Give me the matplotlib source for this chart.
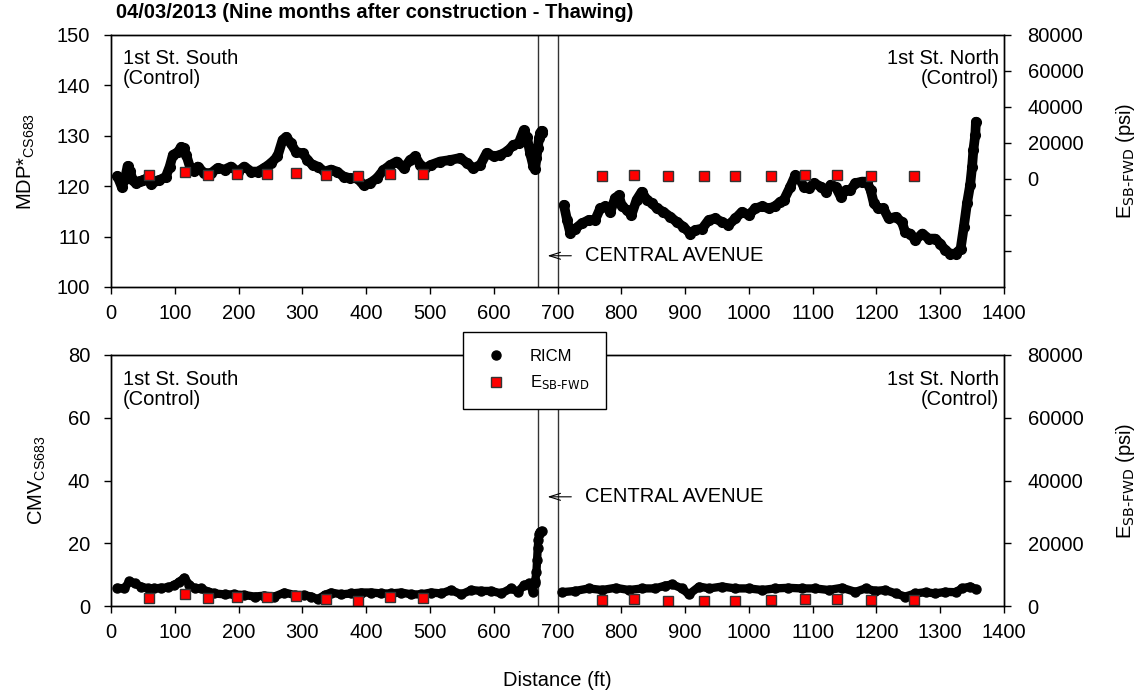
import matplotlib
matplotlib.use('Agg')
import matplotlib.pyplot as plt
from matplotlib.lines import Line2D

plt.rcParams['font.family'] = ['Liberation Sans', 'DejaVu Sans']
plt.rcParams['mathtext.default'] = 'regular'

# RICM MDP* along 1st St. South / North (ft, value)
mdp_s_x = [10, 17, 22, 26, 30, 34, 39, 45, 50, 55, 60, 63, 68, 76, 86, 92, 97, 105, 110, 114,
           118, 125, 130, 136, 146, 157, 167, 178, 188, 199, 209, 220, 230, 240, 251, 261, 269,
           275, 282, 290, 301, 308, 316, 324, 335, 345, 354, 365, 375, 386, 396, 406, 417, 427,
           438, 448, 459, 469, 477, 485, 493, 501, 516, 532, 547, 558, 568, 579, 589, 600, 610,
           621, 631, 639, 647, 652, 657, 662, 665, 667, 669, 671, 673, 675, 676]
mdp_s_y = [122.0, 119.8, 121.5, 124.0, 123.0, 121.2, 120.6, 121.0, 121.2, 121.5, 121.8, 120.4,
           121.0, 121.2, 121.9, 123.9, 126.2, 126.8, 127.8, 127.5, 126.2, 123.3, 123.0, 123.9,
           122.6, 122.6, 123.6, 123.3, 123.9, 122.9, 123.9, 122.9, 122.9, 123.6, 124.6, 125.9,
           129.2, 129.8, 128.5, 126.8, 126.5, 125.2, 124.2, 123.9, 122.9, 123.3, 122.9, 121.9,
           121.6, 121.6, 120.2, 120.6, 121.6, 123.2, 124.2, 124.9, 123.6, 125.2, 125.9, 124.2,
           123.6, 124.2, 124.9, 125.2, 125.6, 124.6, 123.6, 124.2, 126.6, 125.9, 126.2, 126.9,
           128.2, 128.5, 131.1, 129.8, 126.6, 124.0, 123.5, 125.5, 127.5, 129.5, 130.5, 131.0,
           130.5]
mdp_n_x = [710, 715, 720, 728, 738, 749, 759, 767, 775, 783, 790, 796, 801, 809, 816, 824, 832,
           840, 848, 856, 866, 877, 887, 897, 908, 916, 927, 937, 947, 958, 968, 979, 989, 1000,
           1010, 1021, 1031, 1041, 1049, 1055, 1065, 1073, 1078, 1086, 1094, 1102, 1113, 1121,
           1128, 1136, 1144, 1152, 1159, 1167, 1177, 1185, 1191, 1196, 1203, 1211, 1219, 1230,
           1240, 1245, 1253, 1261, 1272, 1282, 1292, 1300, 1308, 1316, 1324, 1332, 1337, 1342,
           1347, 1350, 1352, 1355, 1356]
mdp_n_y = [116.3, 113.3, 110.7, 111.6, 112.6, 113.3, 113.3, 115.6, 116.0, 114.9, 117.6, 118.2,
           116.0, 115.3, 114.3, 117.3, 118.9, 117.3, 116.6, 115.6, 114.9, 113.9, 112.9, 112.0,
           110.6, 111.3, 111.6, 113.3, 113.6, 112.9, 112.3, 113.6, 114.9, 114.3, 115.6, 116.0,
           115.6, 116.0, 116.9, 117.3, 119.9, 122.2, 121.9, 119.9, 119.6, 120.6, 119.9, 118.9,
           120.3, 119.9, 117.9, 119.2, 119.2, 120.6, 120.9, 120.9, 119.2, 116.6, 115.6, 115.6,
           113.6, 113.9, 112.9, 110.9, 110.6, 109.3, 110.6, 109.6, 109.6, 108.6, 107.3, 106.6,
           106.6, 107.6, 111.9, 116.6, 120.3, 123.9, 127.2, 130.2, 132.8]

# RICM CMV
cmv_s_x = [10, 21, 29, 37, 47, 58, 68, 78, 89, 99, 107, 115, 123, 131, 141, 152, 162, 178, 193,
           209, 225, 240, 256, 272, 288, 303, 314, 324, 335, 345, 361, 376, 392, 408, 424, 439,
           455, 471, 486, 502, 518, 533, 549, 565, 580, 596, 612, 627, 638, 648, 656, 661, 664,
           665, 667, 668, 669, 670, 671, 673, 675]
cmv_s_y = [5.8, 5.6, 7.9, 7.2, 6.2, 5.6, 5.6, 5.8, 5.9, 6.7, 7.7, 9.0, 6.7, 5.6, 5.6, 4.6, 4.0,
           3.7, 3.7, 3.5, 3.0, 3.3, 3.0, 4.3, 3.5, 3.5, 3.0, 2.2, 3.5, 4.3, 3.7, 4.0, 4.3, 4.3,
           4.0, 4.0, 4.3, 3.7, 3.7, 4.3, 4.0, 5.1, 3.7, 5.1, 4.8, 4.8, 4.0, 5.6, 4.6, 6.7, 7.2,
           4.6, 7.3, 8.0, 10.9, 14.7, 18.5, 21.0, 22.9, 23.7, 24.0]
cmv_n_x = [707, 728, 749, 770, 791, 812, 833, 853, 869, 880, 895, 906, 922, 938, 958, 979, 1000,
           1021, 1041, 1062, 1083, 1104, 1125, 1146, 1167, 1183, 1198, 1214, 1230, 1245, 1261,
           1277, 1292, 1308, 1324, 1334, 1347, 1356]
cmv_n_y = [4.4, 4.8, 5.6, 5.1, 5.8, 5.1, 5.6, 5.6, 6.5, 6.9, 5.6, 3.7, 6.2, 5.6, 6.2, 5.6, 5.6,
           5.1, 5.6, 5.8, 5.6, 5.6, 5.1, 5.8, 4.5, 5.6, 4.8, 5.1, 4.0, 3.0, 4.0, 4.4, 4.0, 4.5,
           4.4, 5.6, 6.2, 5.4]

# SB-FWD modulus (psi)
fwd_x = [59, 116, 152, 198, 244, 290, 337, 388, 438, 489,
         770, 820, 874, 929, 979, 1034, 1088, 1138, 1192, 1259]
fwd_e = [2400, 3700, 2500, 2900, 3000, 3100, 2100, 1700, 3000, 2600,
         1900, 2200, 1700, 1700, 1700, 1800, 2100, 2200, 1800, 1800]

W, H = 1143, 696
fig = plt.figure(figsize=(W / 100, H / 100), dpi=100)
ax1 = fig.add_axes([111 / W, 1 - 287 / H, 893 / W, 252 / H])
ax2 = fig.add_axes([111 / W, 1 - 606 / H, 893 / W, 251 / H])

fs = 14.5
esb = r'E$_{\text{SB-FWD}}$'
line_kw = dict(color='black', marker='o', solid_capstyle='round', solid_joinstyle='round')
sq_kw = dict(marker='s', ls='none', ms=6.8, mfc='red', mec='#333333', mew=1.0)
arrow_kw = dict(arrowstyle='->, head_length=0.8, head_width=0.25', lw=0.8, color='black')


def style(ax, axr):
    ax.set_xlim(0, 1400)
    ax.set_xticks(range(0, 1401, 100))
    for a in (ax, axr):
        a.tick_params(direction='out', length=5, width=1, labelsize=fs)
        for s in a.spines.values():
            s.set_linewidth(1)
    ax.tick_params(axis='y', pad=10)
    ax.tick_params(axis='x', pad=7)
    axr.tick_params(axis='y', pad=12)
    for xv in (669, 700):
        ax.axvline(xv, color='#333333', lw=1, zorder=1)


# top panel
ax1.plot(mdp_s_x, mdp_s_y, lw=7, ms=7, **line_kw)
ax1.plot(mdp_n_x, mdp_n_y, lw=7, ms=7, **line_kw)
ax1.set_ylim(100, 150)
ax1.set_yticks(range(100, 151, 10))
ax1.set_ylabel('MDP*$_{CS683}$', fontsize=fs, labelpad=14)
ax1r = ax1.twinx()
ax1r.plot(fwd_x, fwd_e, **sq_kw)
ax1r.set_ylim(-60000, 80000)
ax1r.set_yticks(range(-40000, 80001, 20000))
ax1r.set_yticklabels(['', ''] + [str(v) for v in range(0, 80001, 20000)])
ax1r.set_ylabel(esb + ' (psi)', fontsize=fs, labelpad=22)
style(ax1, ax1r)
ax1.text(0.013, 0.945, '1st St. South\n(Control)', transform=ax1.transAxes, fontsize=fs,
         va='top', ha='left', linespacing=1.05)
ax1.text(0.994, 0.945, '1st St. North\n(Control)', transform=ax1.transAxes, fontsize=fs,
         va='top', ha='right', multialignment='right', linespacing=1.05)
ax1.annotate('', xy=(680, 106.2), xytext=(726, 106.2), arrowprops=arrow_kw)
ax1.text(743, 106.2, 'CENTRAL AVENUE', fontsize=fs, va='center', ha='left')

# bottom panel
ax2.plot(cmv_s_x, cmv_s_y, lw=6, ms=6.5, **line_kw)
ax2.plot(cmv_n_x, cmv_n_y, lw=6, ms=6.5, **line_kw)
ax2.set_ylim(0, 80)
ax2.set_yticks(range(0, 81, 20))
ax2.set_ylabel('CMV$_{CS683}$', fontsize=fs, labelpad=14)
ax2r = ax2.twinx()
ax2r.plot(fwd_x, fwd_e, **sq_kw)
ax2r.set_ylim(0, 80000)
ax2r.set_yticks(range(0, 80001, 20000))
ax2r.set_ylabel(esb + ' (psi)', fontsize=fs, labelpad=22)
style(ax2, ax2r)
ax2.text(0.013, 0.94, '1st St. South\n(Control)', transform=ax2.transAxes, fontsize=fs,
         va='top', ha='left', linespacing=1.05)
ax2.text(0.994, 0.94, '1st St. North\n(Control)', transform=ax2.transAxes, fontsize=fs,
         va='top', ha='right', multialignment='right', linespacing=1.05)
ax2.annotate('', xy=(680, 34.8), xytext=(726, 34.8), arrowprops=arrow_kw)
ax2.text(743, 34.8, 'CENTRAL AVENUE', fontsize=fs, va='center', ha='left')

fig.text(557 / W, 1 - 680 / H, 'Distance (ft)', fontsize=fs, ha='center', va='center')
fig.text(116 / W, 1 - 13 / H, '04/03/2013 (Nine months after construction - Thawing)',
         fontsize=14.5, fontweight='bold', ha='left', va='center')

handles = [Line2D([], [], color='black', marker='o', ls='none', ms=6.5),
           Line2D([], [], **dict(sq_kw, ms=7.5))]
leg = fig.legend(handles, ['RICM', esb], loc='upper left',
                 bbox_to_anchor=(463 / W, 1 - 332 / H), fontsize=12, frameon=True,
                 fancybox=False, framealpha=1, edgecolor='black', borderpad=1.0,
                 handletextpad=1.0, handlelength=2.0, labelspacing=0.6, borderaxespad=0)
leg.get_frame().set_linewidth(1)

fig.savefig('out.png', dpi=100)
